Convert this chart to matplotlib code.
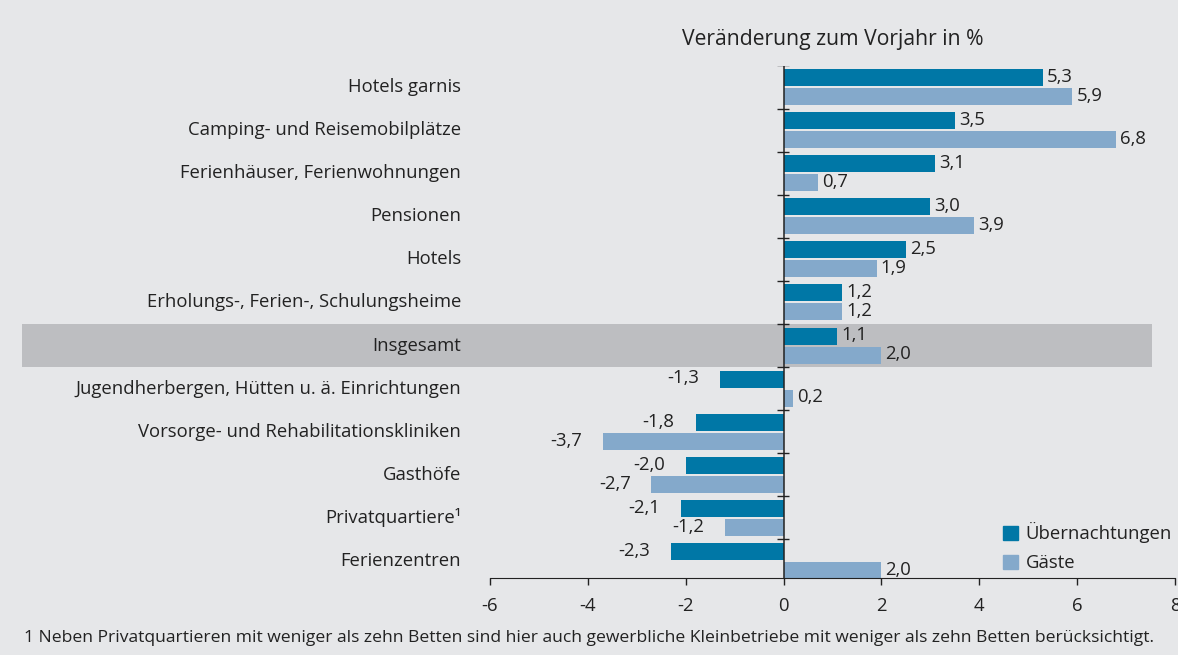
import matplotlib
matplotlib.use("Agg")
import matplotlib.pyplot as plt
from matplotlib.patches import Patch, Rectangle
import numpy as np

plt.rcParams['font.family'] = ['Open Sans', 'DejaVu Sans']

BG = '#e6e7e9'
HIGHLIGHT = '#bdbec1'
DARK = '#0077a6'
LIGHT = '#84a9cb'
TXT = '#222222'

categories = [
    "Hotels garnis",
    "Camping- und Reisemobilplätze",
    "Ferienhäuser, Ferienwohnungen",
    "Pensionen",
    "Hotels",
    "Erholungs-, Ferien-, Schulungsheime",
    "Insgesamt",
    "Jugendherbergen, Hütten u. ä. Einrichtungen",
    "Vorsorge- und Rehabilitationskliniken",
    "Gasthöfe",
    "Privatquartiere¹",
    "Ferienzentren",
]
uebernachtungen = [5.3, 3.5, 3.1, 3.0, 2.5, 1.2, 1.1, -1.3, -1.8, -2.0, -2.1, -2.3]
gaeste = [5.9, 6.8, 0.7, 3.9, 1.9, 1.2, 2.0, 0.2, -3.7, -2.7, -1.2, 2.0]
highlight_row = "Insgesamt"
xticks = [-6, -4, -2, 0, 2, 4, 6, 8]
footnote = ("1 Neben Privatquartieren mit weniger als zehn Betten sind hier auch "
            "gewerbliche Kleinbetriebe mit weniger als zehn Betten berücksichtigt.")

FS = 13.3


def fmt(v):
    return f"{v:.1f}".replace('.', ',')


def plot():
    fig = plt.figure(figsize=(11.78, 6.55), dpi=100, facecolor=BG)
    ax = fig.add_axes([490 / 1178, (655 - 578) / 655, 685 / 1178, 512 / 655])
    ax.set_facecolor(BG)

    y = np.arange(len(categories))
    h = 0.394
    off = 0.22

    # highlighted row band reaching over the label area
    hi = categories.index(highlight_row)
    ax.add_patch(Rectangle((-0.683, hi - 0.5), 0.683 + 0.967, 1.0,
                           transform=ax.get_yaxis_transform(), clip_on=False,
                           facecolor=HIGHLIGHT, edgecolor='none', zorder=0))

    ax.barh(y - off, uebernachtungen, height=h, color=DARK, zorder=2)
    ax.barh(y + off, gaeste, height=h, color=LIGHT, zorder=2)

    for yy, vals in ((y - off, uebernachtungen), (y + off, gaeste)):
        for yi, v in zip(yy, vals):
            if v >= 0:
                ax.annotate(fmt(v), (v, yi), xytext=(3, 0.5), textcoords='offset points',
                            ha='left', va='center', fontsize=FS, color=TXT)
            else:
                ax.annotate(fmt(v), (v, yi), xytext=(-15, 0.5), textcoords='offset points',
                            ha='right', va='center', fontsize=FS, color=TXT)

    # category labels
    for yi, c in zip(y, categories):
        ax.text(-0.042, yi, c, transform=ax.get_yaxis_transform(), ha='right',
                va='center', fontsize=FS, color=TXT)

    # zero line with small ticks at row boundaries
    ax.axvline(0, color='#222222', lw=1.1, zorder=3)
    ax.hlines(np.arange(len(categories) + 1) - 0.5, -0.14, 0.12,
              color='#222222', lw=1.0, zorder=3)

    ax.set_xlim(-6, 8)
    ax.set_ylim(len(categories) - 0.606, -0.487)
    ax.set_xticks(xticks)
    ax.set_xticklabels([str(t) for t in xticks], fontsize=FS, color=TXT)
    ax.tick_params(axis='x', direction='out', length=5, width=1, color='#222222', pad=9)
    ax.set_yticks([])
    for s in ('left', 'right', 'top'):
        ax.spines[s].set_visible(False)
    ax.spines['bottom'].set_color('#222222')

    ax.text(0.5, 1 + 26 / 512, "Veränderung zum Vorjahr in %", transform=ax.transAxes,
            ha='center', va='center', fontsize=15.2, color=TXT)

    handles = [Patch(color=DARK, label='Übernachtungen'), Patch(color=LIGHT, label='Gäste')]
    ax.legend(handles=handles, loc='lower right', bbox_to_anchor=(1.004, 0.0),
              frameon=False, fontsize=FS, handlelength=0.86, handleheight=0.86,
              handletextpad=0.4, labelspacing=0.6, borderaxespad=0.1,
              borderpad=0.2, labelcolor=TXT)

    fig.text(24 / 1178, 1 - 638 / 655, footnote, ha='left', va='center',
             fontsize=12.6, color=TXT)

    fig.savefig('out.png', dpi=100, facecolor=BG)


def main():
    plot()
    return 0


if __name__ == "__main__":
    main()
